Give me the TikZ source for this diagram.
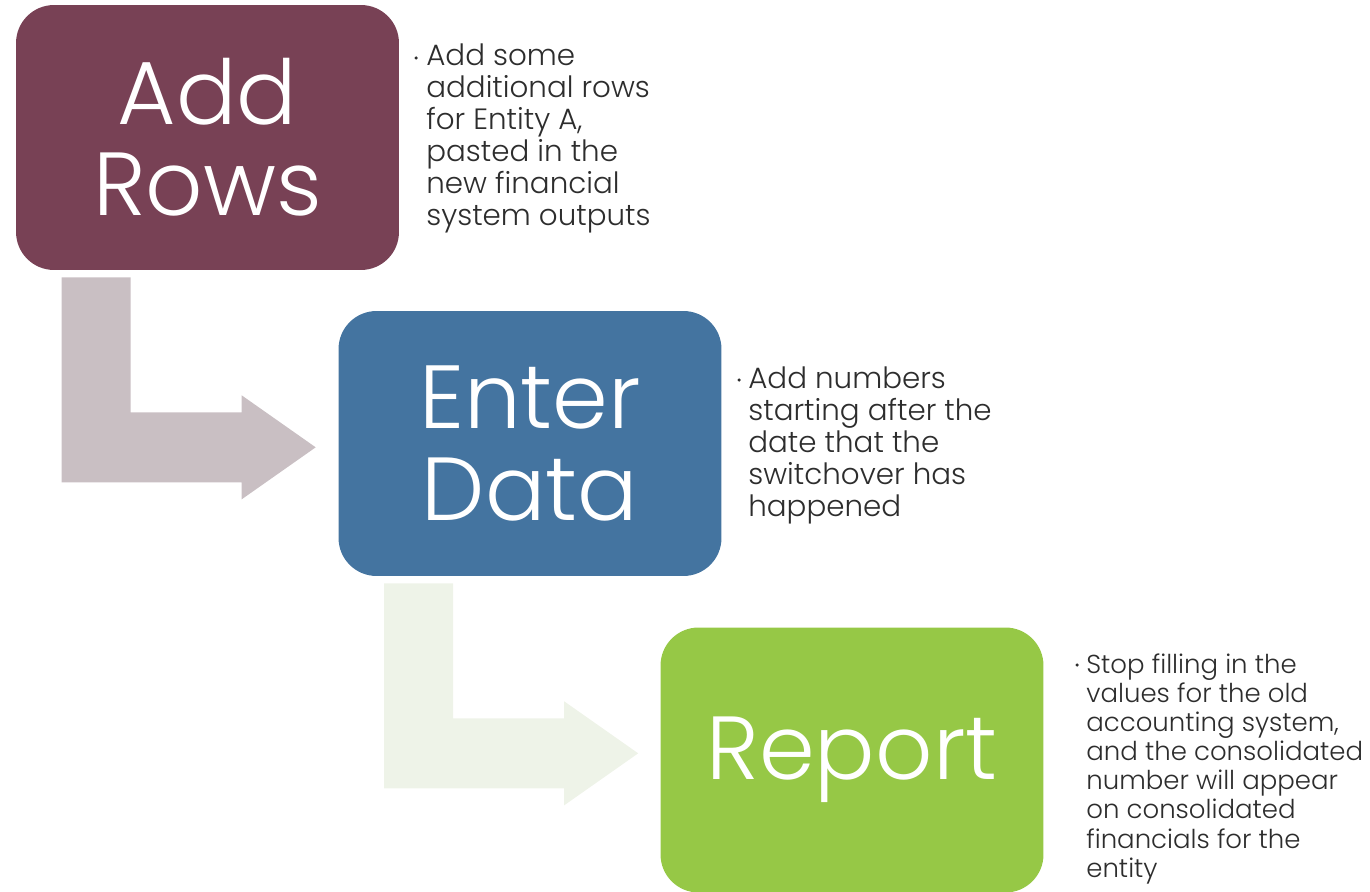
\documentclass[tikz,border=0pt]{standalone}
\usepackage{fontspec}
\IfFontExistsTF{Poppins Light}{\setmainfont{Poppins Light}}{\setmainfont{Poppins}}
\usetikzlibrary{positioning}
\usetikzlibrary{calc}

\definecolor{rowsMaroon}{RGB}{120,65,85}
\definecolor{dataBlue}{RGB}{68,116,160}
\definecolor{reportGreen}{RGB}{150,200,70}
\definecolor{arrowOne}{RGB}{201,191,195}
\definecolor{arrowTwo}{RGB}{238,243,232}
\definecolor{noteGray}{RGB}{45,45,45}

\begin{document}
\begin{tikzpicture}[x=0.02cm, y=-0.02cm,
    stepBox/.style={shape=rectangle, rounded corners=0.76cm, minimum width=7.66cm, minimum height=5.3cm, inner sep=0mm, text=white, align=center, font=\fontsize{51}{52}\selectfont},
    note/.style={anchor=north west, inner sep=0mm, align=left, text=noteGray, font=\fontsize{16.7}{18.3}\selectfont},
    smallNote/.style={note, font=\fontsize{14.8}{16.6}\selectfont},
    bulletDot/.style={shape=circle, fill=noteGray, inner sep=0mm, minimum size=0.07cm},
  ]
    \useasboundingbox (0,0) rectangle (1370,892);

    % bent arrows go first, under the boxes
    \node[stepBox, fill=rowsMaroon] (rows) at (207.5,137.5) {Add\\Rows};
    \node[stepBox, fill=dataBlue] (data) at (530,443.5) {Enter\\Data};
    \node[stepBox, fill=reportGreen] (report) at (852,760) {Report};

    \coordinate (bend_0) at ($(rows.south west)+(46,7)$);
    \coordinate (bend_1) at ($(data.south west)+(46,7)$);

    \fill[arrowOne] (bend_0) -- ++(69,0) -- ++(0,135) -- ++(111,0) -- ++(0,-17) -- ++(74,52) -- ++(-74,52) -- ++(0,-17) -- ++(-180,0) -- cycle;
    \fill[arrowTwo] (bend_1) -- ++(69,0) -- ++(0,135) -- ++(111,0) -- ++(0,-17) -- ++(74,52) -- ++(-74,52) -- ++(0,-17) -- ++(-180,0) -- cycle;

    \node[note] (note_0) at (426,43) {Add some\\additional rows\\for Entity A,\\pasted in the\\new financial\\system outputs};
    \node[note] (note_1) at (748,366) {Add numbers\\starting after the\\date that the\\switchover has\\happened};
    \node[smallNote] (note_2) at (1086,653) {Stop filling in the\\values for the old\\accounting system,\\and the consolidated\\number will appear\\on consolidated\\financials for the\\entity};

    \node[bulletDot] (dot_0) at (416,58) {};
    \node[bulletDot] (dot_1) at (739,380) {};
    \node[bulletDot] (dot_2) at (1077,665) {};
  \end{tikzpicture}
\end{document}
